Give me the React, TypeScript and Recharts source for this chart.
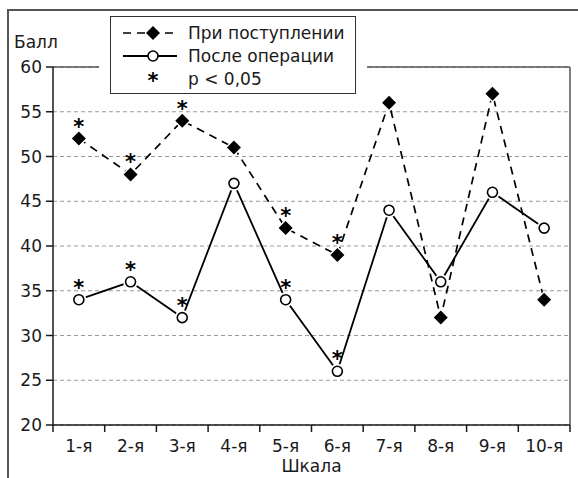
import {
  CartesianGrid,
  Label,
  LabelList,
  Legend,
  Line,
  LineChart,
  XAxis,
  YAxis,
} from "recharts";

const scales = ["1-я", "2-я", "3-я", "4-я", "5-я", "6-я", "7-я", "8-я", "9-я", "10-я"];
const admission = [52, 48, 54, 51, 42, 39, 56, 32, 57, 34];
const afterSurgery = [34, 36, 32, 47, 34, 26, 44, 36, 46, 42];
const admissionSig = [true, true, true, false, true, true, false, false, false, false];
const afterSurgerySig = [true, true, true, false, true, true, false, false, false, false];
const yTicks = [20, 25, 30, 35, 40, 45, 50, 55, 60];

const data = scales.map((scale, i) => ({
  scale,
  admission: admission[i],
  afterSurgery: afterSurgery[i],
  admissionStar: admissionSig[i] ? "*" : "",
  afterSurgeryStar: afterSurgerySig[i] ? "*" : "",
}));

const W = 578;
const H = 478;
const MARGIN = { top: 67, right: 8, left: 8, bottom: 8 };
const Y_AXIS_W = 45;
const PLOT_W = W - MARGIN.left - MARGIN.right - Y_AXIS_W;
const BAND = PLOT_W / scales.length;
const FONT = "'DejaVu Sans', Verdana, sans-serif";
const INK = "#1a1a1a";

const XTick = (props: any) => {
  const { x, y, payload, index } = props;
  const half = BAND / 2;
  return (
    <g>
      <line x1={x - half} x2={x - half} y1={y - 7} y2={y} stroke={INK} strokeWidth={1.5} />
      {index === scales.length - 1 && (
        <line x1={x + half} x2={x + half} y1={y - 7} y2={y} stroke={INK} strokeWidth={1.5} />
      )}
      <text x={x} y={y + 8} dy="0.71em" textAnchor="middle" fill={INK} fontSize={17} fontFamily={FONT}>
        {payload.value}
      </text>
    </g>
  );
};

const Diamond = (props: any) => {
  const { cx, cy } = props;
  const pts = (r: number) => `${cx},${cy - r} ${cx + r},${cy} ${cx},${cy + r} ${cx - r},${cy}`;
  return (
    <g>
      <polygon points={pts(9)} fill="#fff" />
      <polygon points={pts(7)} fill="#000" />
    </g>
  );
};

const OpenCircle = (props: any) => {
  const { cx, cy } = props;
  return (
    <g>
      <circle cx={cx} cy={cy} r={7.5} fill="#fff" />
      <circle cx={cx} cy={cy} r={5} fill="#fff" stroke="#000" strokeWidth={1.6} />
    </g>
  );
};

const Star = (props: any) => {
  const { x, y, value } = props;
  if (!value) return null;
  return (
    <text
      x={x}
      y={y - 5}
      textAnchor="middle"
      fontSize={21}
      fontWeight="bold"
      fontFamily={FONT}
      fill="#000"
    >
      *
    </text>
  );
};

const LegendBox = () => (
  <div style={{ background: "#fff", padding: "0 11px", height: 78 }}>
    <svg
      width={246}
      height={78}
      style={{ display: "block", border: "1.5px solid #333", boxSizing: "border-box" }}
    >
      <line x1={12} x2={66} y1={16} y2={16} stroke="#000" strokeWidth={1.6} strokeDasharray="8 6" />
      <polygon points="42,9 49,16 42,23 35,16" fill="#000" />
      <text x={77} y={16} dy="0.35em" fontSize={17} fontFamily={FONT} fill={INK}>
        При поступлении
      </text>
      <line x1={12} x2={66} y1={39} y2={39} stroke="#000" strokeWidth={1.8} />
      <circle cx={42} cy={39} r={5} fill="#fff" stroke="#000" strokeWidth={1.6} />
      <text x={77} y={39} dy="0.35em" fontSize={17} fontFamily={FONT} fill={INK}>
        После операции
      </text>
      <text x={42} y={71} textAnchor="middle" fontSize={21} fontWeight="bold" fontFamily={FONT} fill="#000">
        *
      </text>
      <text x={77} y={62} dy="0.35em" fontSize={17} fontFamily={FONT} fill={INK}>
        p &lt; 0,05
      </text>
    </svg>
  </div>
);

export default function App() {
  return (
    <div style={{ position: "absolute", left: 0, top: 0, width: W, height: H, background: "#fff" }}>
      <div
        style={{
          position: "absolute",
          left: 7,
          top: 9,
          width: W,
          height: H,
          borderLeft: "2px solid #555",
          borderTop: "2px solid #555",
        }}
      />
      <LineChart width={W} height={H} data={data} margin={MARGIN}>
        <CartesianGrid vertical={false} stroke="#999" strokeDasharray="4 3" />
        {/* plot frame: top and right edges */}
        <CartesianGrid
          stroke="#555"
          strokeWidth={1.5}
          horizontalCoordinatesGenerator={({ offset }: any) => [offset.top]}
          verticalCoordinatesGenerator={({ offset }: any) => [offset.left + offset.width]}
        />
        <XAxis
          dataKey="scale"
          height={45}
          interval={0}
          padding={{ left: BAND / 2, right: BAND / 2 }}
          tickLine={false}
          tickSize={7}
          tickMargin={0}
          tick={<XTick />}
          axisLine={{ stroke: INK, strokeWidth: 1.5 }}
        >
          <Label
            value="Шкала"
            position="insideBottom"
            offset={-2}
            fill={INK}
            fontSize={17}
            fontFamily={FONT}
          />
        </XAxis>
        <YAxis
          type="number"
          domain={[20, 60]}
          ticks={yTicks}
          interval={0}
          width={Y_AXIS_W}
          tickSize={7}
          tickMargin={4}
          tickLine={{ stroke: INK, strokeWidth: 1.5 }}
          axisLine={{ stroke: INK, strokeWidth: 1.5 }}
          tick={{ fill: INK, fontSize: 17, fontFamily: FONT }}
        >
          <Label
            content={(p: any) => (
              <text
                x={p.viewBox.x + 6}
                y={p.viewBox.y - 25}
                dy="0.35em"
                fontSize={17}
                fontFamily={FONT}
                fill={INK}
              >
                Балл
              </text>
            )}
          />
        </YAxis>
        <Legend
          verticalAlign="middle"
          align="center"
          content={<LegendBox />}
          wrapperStyle={{ left: 99, top: 16, width: 268, height: 78 }}
        />
        <Line
          dataKey="admission"
          stroke="#000"
          strokeWidth={1.7}
          strokeDasharray="8 6"
          dot={<Diamond />}
          activeDot={false}
          isAnimationActive={false}
        >
          <LabelList dataKey="admissionStar" content={<Star />} />
        </Line>
        <Line
          dataKey="afterSurgery"
          stroke="#000"
          strokeWidth={1.8}
          dot={<OpenCircle />}
          activeDot={false}
          isAnimationActive={false}
        >
          <LabelList dataKey="afterSurgeryStar" content={<Star />} />
        </Line>
      </LineChart>
    </div>
  );
}
